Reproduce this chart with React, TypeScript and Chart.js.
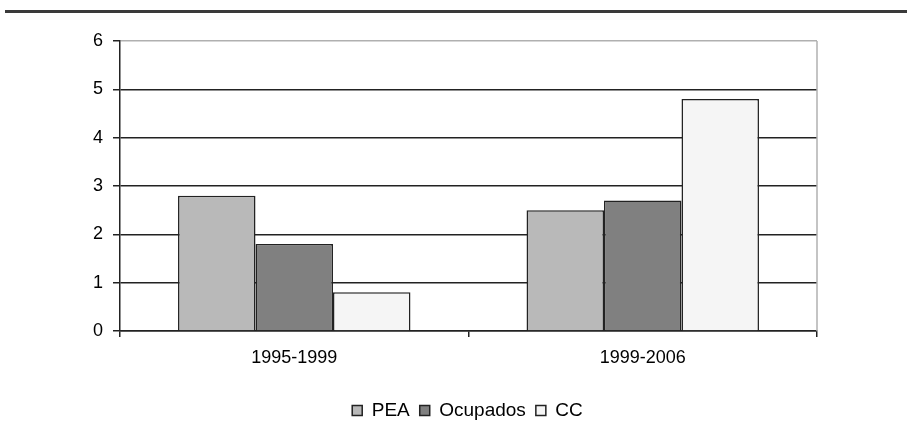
import React, { useEffect, useRef } from "react";
import { Chart, registerables } from "chart.js";

Chart.register(...registerables);

const categories = ["1995-1999", "1999-2006"];
const peaValues = [2.8, 2.5];
const ocupadosValues = [1.8, 2.7];
const ccValues = [0.8, 4.8];
const yTicks = [0, 1, 2, 3, 4, 5, 6];

const FONT = '"Liberation Sans", Arial, sans-serif';

const frameLines = {
  id: "frameLines",
  afterDatasetsDraw(chart: any) {
    const { ctx, chartArea } = chart;
    ctx.save();
    ctx.strokeStyle = "#b0b0b0";
    ctx.lineWidth = 1.5;
    ctx.beginPath();
    ctx.moveTo(chartArea.right, chartArea.top);
    ctx.lineTo(chartArea.right, chartArea.bottom);
    ctx.stroke();
    ctx.restore();
  },
};

export default function App() {
  const ref = useRef<HTMLCanvasElement>(null);
  useEffect(() => {
    if (!ref.current) return;
    const chart = new Chart(ref.current, {
      type: "bar",
      data: {
        labels: categories,
        datasets: [
          { label: "PEA", data: peaValues, backgroundColor: "#b9b9b9" },
          { label: "Ocupados", data: ocupadosValues, backgroundColor: "#808080" },
          { label: "CC", data: ccValues, backgroundColor: "#f5f5f5" },
        ].map((d) => ({
          ...d,
          borderColor: "#222",
          borderWidth: 1.5,
          categoryPercentage: 0.667,
          barPercentage: 1,
          yAxisID: "y",
        })),
      },
      options: {
        animation: false,
        responsive: false,
        maintainAspectRatio: false,
        layout: { padding: { left: 28, right: 0, top: 41, bottom: 4 } },
        plugins: {
          tooltip: { enabled: false },
          legend: {
            position: "bottom",
            labels: {
              boxWidth: 10,
              boxHeight: 10,
              padding: 10,
              color: "#000",
              font: { family: FONT, size: 19 },
            },
          },
        },
        scales: {
          x: {
            afterFit: (s: any) => {
              s.height = 60;
            },
            grid: {
              drawOnChartArea: false,
              drawTicks: true,
              tickLength: 6,
              color: "#222",
              lineWidth: 1.5,
            },
            border: { color: "#222", width: 1.5 },
            ticks: {
              color: "#000",
              padding: 10,
              font: { family: FONT, size: 18 },
            },
          },
          y: {
            min: 0,
            max: 6,
            afterFit: (s: any) => {
              s.width = 92;
            },
            afterBuildTicks: (s: any) => {
              s.ticks = yTicks.map((v) => ({ value: v }));
            },
            grid: {
              color: (c: any) => (c.tick && c.tick.value === 6 ? "#b0b0b0" : "#222"),
              lineWidth: 1.5,
              tickLength: 7,
              tickColor: "#222",
            },
            border: { color: "#222", width: 1.5 },
            ticks: {
              stepSize: 1,
              color: "#000",
              padding: 10,
              font: { family: FONT, size: 18 },
            },
          },
          spacer: {
            type: "linear",
            position: "right",
            display: true,
            min: 0,
            max: 6,
            afterFit: (s: any) => {
              s.width = 90;
            },
            grid: { display: false, drawOnChartArea: false },
            border: { display: false },
            ticks: { display: false },
          },
        },
      },
      plugins: [frameLines],
    } as any);
    return () => chart.destroy();
  }, []);

  return (
    <div
      style={{
        position: "fixed",
        left: 0,
        top: 0,
        width: 907,
        height: 434,
        background: "#fff",
      }}
    >
      <div
        style={{
          position: "absolute",
          left: 5,
          top: 10,
          width: 902,
          height: 3,
          background: "#3a3a3a",
        }}
      />
      <canvas
        ref={ref}
        width={907}
        height={434}
        style={{ position: "absolute", left: 0, top: 0, width: 907, height: 434 }}
      />
    </div>
  );
}
